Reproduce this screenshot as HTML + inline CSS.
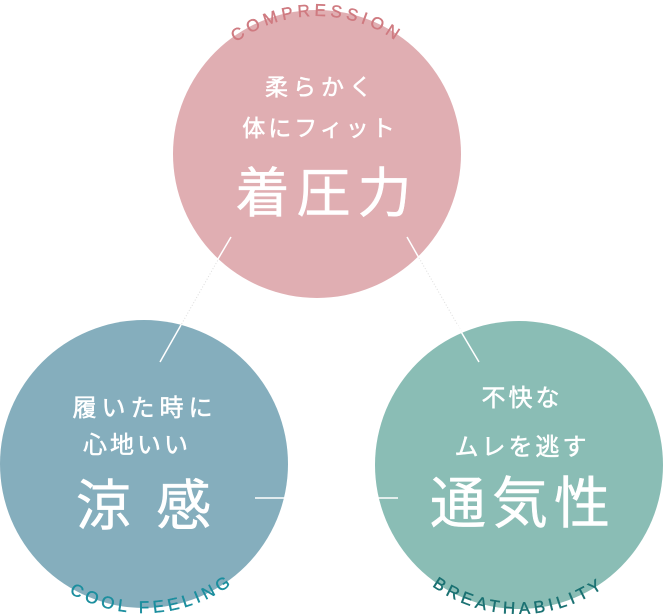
<!DOCTYPE html>
<html><head><meta charset="utf-8"><style>
html,body{margin:0;padding:0;background:#fff;}
svg{display:block;}
.j{font-family:"Liberation Sans","Noto Sans CJK JP",sans-serif;fill:#fff;text-anchor:middle;stroke:#fff;stroke-width:0.5;}
.e{font-family:"Liberation Sans","DejaVu Sans",sans-serif;font-size:17px;letter-spacing:4.2px;}
</style></head><body>
<svg width="663" height="614" viewBox="0 0 663 614" xmlns="http://www.w3.org/2000/svg">
<defs>
<path id="pt" d="M 179 154 A 138 138 0 0 1 455 154"/>
<path id="pl" d="M -5 464 A 149 149 0 0 0 293 464"/>
<path id="pr" d="M 370 465 A 149 149 0 0 0 668 465"/>
</defs>
<line x1="231" y1="237" x2="160" y2="362" stroke="#ddd" stroke-width="1" stroke-dasharray="1 2"/>
<line x1="407" y1="237" x2="479" y2="362" stroke="#ddd" stroke-width="1" stroke-dasharray="1 2"/>
<circle cx="317" cy="154" r="144" fill="#e0aeb2"/>
<circle cx="144" cy="464" r="144" fill="#85aebd"/>
<circle cx="519" cy="465" r="144" fill="#8abdb5"/>
<line x1="231" y1="237" x2="218" y2="259" stroke="#fff" stroke-width="1.5"/>
<line x1="407" y1="237" x2="419" y2="258" stroke="#fff" stroke-width="1.5"/>
<line x1="181" y1="325" x2="160" y2="362" stroke="#fff" stroke-width="1.5"/>
<line x1="457" y1="325" x2="479" y2="362" stroke="#fff" stroke-width="1.5"/>
<line x1="255" y1="498" x2="288" y2="498" stroke="#fff" stroke-width="1.5"/>
<line x1="376" y1="498" x2="398" y2="498" stroke="#fff" stroke-width="1.5"/>
<text class="e" fill="#cf7a80" stroke="#cf7a80" stroke-width="0.4" text-anchor="middle"><textPath href="#pt" startOffset="50%">COMPRESSION</textPath></text>
<text class="e" fill="#1b8e9e" stroke="#1b8e9e" stroke-width="0.4" text-anchor="middle"><textPath href="#pl" startOffset="52%">COOL FEELING</textPath></text>
<text class="e" fill="#1a7172" stroke="#1a7172" stroke-width="0.4" text-anchor="middle"><textPath href="#pr" startOffset="50%">BREATHABILITY</textPath></text>
<text class="j" x="321" y="95" font-size="23" letter-spacing="5">柔らかく</text>
<text class="j" x="320" y="136" font-size="23" letter-spacing="3">体にフィット</text>
<text class="j" x="327" y="212" font-size="54" letter-spacing="7">着圧力</text>
<text class="j" x="145" y="416" font-size="24" letter-spacing="5">履いた時に</text>
<text class="j" x="137" y="453" font-size="24" letter-spacing="3">心地いい</text>
<text class="j" x="146" y="525" font-size="55" letter-spacing="5">涼 感</text>
<text class="j" x="522" y="406" font-size="24" letter-spacing="3">不快な</text>
<text class="j" x="522" y="455" font-size="24" letter-spacing="3">ムレを逃す</text>
<text class="j" x="523" y="523" font-size="56" letter-spacing="6">通気性</text>
</svg>
</body></html>
